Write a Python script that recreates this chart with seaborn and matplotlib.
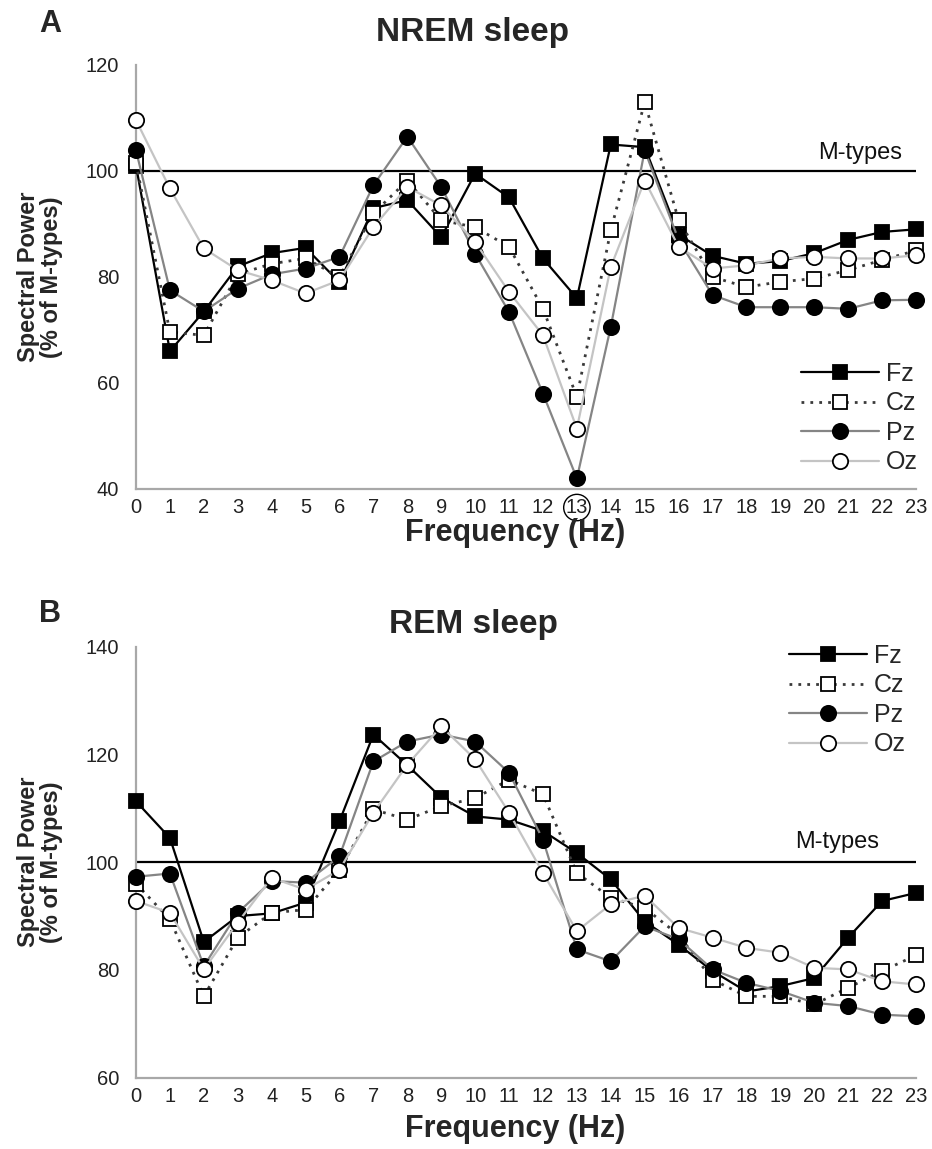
import matplotlib
matplotlib.use("Agg")
import matplotlib.pyplot as plt
import seaborn as sns

# Frequency bins (Hz)
freq = list(range(24))
channels = ["Fz", "Cz", "Pz", "Oz"]

# NREM sleep: spectral power, % of M-types
nrem_fz = [101, 66, 73.5, 82, 84.5, 85.5, 79, 93, 94.5, 87.5, 99.5, 95, 83.5, 76,
           105, 104.5, 88, 84, 82.5, 83, 84.5, 87, 88.5, 89]
nrem_cz = [101.5, 69.6, 69, 80.5, 82.5, 83.5, 80, 92, 98.2, 90.7, 89.4, 85.7, 74, 57.4,
           88.8, 113, 90.7, 80, 78.1, 79.1, 79.7, 81.3, 83.2, 85]
nrem_pz = [103.9, 77.5, 73.5, 77.8, 80.5, 81.6, 83.8, 97.3, 106.5, 97, 84.4, 73.4, 58, 42,
           70.6, 103.9, 87, 76.6, 74.3, 74.3, 74.3, 74, 75.6, 75.7]
nrem_oz = [109.6, 96.7, 85.4, 81.3, 79.4, 76.9, 79.4, 89.4, 97, 93.5, 86.6, 77.2, 69, 51.4,
           81.9, 98.2, 85.7, 81.6, 82.2, 83.5, 83.8, 83.5, 83.5, 84.1]

# REM sleep: spectral power, % of M-types
rem_fz = [111.3, 104.5, 85.2, 90, 90.5, 92.5, 107.6, 123.7, 118, 112, 108.5, 107.9, 105.8,
          101.7, 96.8, 89, 84.7, 79.8, 76, 77, 78.5, 86, 92.8, 94.3]
rem_cz = [96, 89.4, 75.1, 86, 90.6, 91.2, 98.5, 109.8, 107.9, 110.4, 111.9, 115.3, 112.6,
          98, 93.4, 91.5, 86.5, 78.2, 75.1, 75.1, 73.6, 76.7, 79.8, 82.7]
rem_pz = [97.3, 97.9, 80.7, 90.6, 96.5, 96.2, 101.1, 118.7, 122.4, 123.7, 122.4, 116.6,
          104.2, 83.8, 81.6, 88.1, 85.7, 80.1, 77.6, 76.1, 73.9, 73.3, 71.7, 71.4]
rem_oz = [92.8, 90.6, 80.1, 88.8, 97.1, 94.9, 98.6, 109.2, 118.1, 125.2, 119.1, 109.2, 98,
          87.2, 92.2, 93.8, 87.8, 86, 84.1, 83.2, 80.4, 80.1, 77.9, 77.3]

nrem_yticks = [40, 60, 80, 100, 120]
rem_yticks = [60, 80, 100, 120, 140]
reference_level = 100

sns.set_theme(style="white")
plt.rcParams["font.family"] = ["Liberation Sans", "DejaVu Sans"]

line_styles = {
    "Fz": dict(color="black", lw=1.6, ls="-", marker="s", mfc="black", mec="black", ms=10.5, zorder=3),
    "Cz": dict(color="#3a3a3a", lw=2.0, ls=(0, (1, 2.2)), marker="s", mfc="white", mec="black", ms=10.5, zorder=4),
    "Pz": dict(color="#858585", lw=1.6, ls="-", marker="o", mfc="black", mec="black", ms=11, zorder=5),
    "Oz": dict(color="#c4c4c4", lw=1.6, ls="-", marker="o", mfc="white", mec="black", ms=11, zorder=6),
}

W, H = 932, 1149
fig = plt.figure(figsize=(W / 100, H / 100), dpi=100)
axA = fig.add_axes([136 / W, 1 - 489 / H, 780 / W, 424 / H])
axB = fig.add_axes([136 / W, 1 - 1077.7 / H, 780 / W, 431 / H])


def draw_panel(ax, series, yticks, mtext_xy, legend_anchor):
    for name, vals in zip(channels, series):
        st = line_styles[name]
        sns.lineplot(x=freq, y=vals, ax=ax, color=st["color"], linewidth=st["lw"],
                     linestyle=st["ls"], marker=st["marker"], markersize=st["ms"],
                     markerfacecolor=st["mfc"], markeredgecolor=st["mec"],
                     markeredgewidth=1.3, label=name, clip_on=False, zorder=st["zorder"])
    ax.axhline(reference_level, color="black", lw=1.6, zorder=2)
    ax.text(mtext_xy[0], mtext_xy[1], "M-types", ha="right", va="bottom", fontsize=17,
            color="#111111")
    ax.set_xlim(0, 23)
    ax.set_ylim(yticks[0], yticks[-1])
    ax.set_xticks(freq)
    ax.set_xticklabels([str(f) for f in freq])
    ax.set_yticks(yticks)
    for side in ("top", "right"):
        ax.spines[side].set_visible(False)
    for side in ("left", "bottom"):
        ax.spines[side].set_color("#a8a8a8")
        ax.spines[side].set_linewidth(1.6)
    ax.tick_params(axis="both", direction="out", length=5, width=1.2, color="#a8a8a8",
                   labelsize=14.5, labelcolor="#222222")
    ax.tick_params(axis="y", pad=7)
    ax.tick_params(axis="x", pad=1.5)
    ax.set_xlabel("")
    ax.set_ylabel("")
    handles, labels = ax.get_legend_handles_labels()
    ax.legend(handles[:4], labels[:4], loc="center left", bbox_to_anchor=legend_anchor,
              bbox_transform=fig.transFigure, frameon=False, handlelength=3.1,
              handletextpad=0.3, labelspacing=0.22, fontsize=18, borderpad=0,
              borderaxespad=0, numpoints=1)


draw_panel(axA, [nrem_fz, nrem_cz, nrem_pz, nrem_oz], nrem_yticks, (22.6, 101.4),
           (801 / W, 1 - 418 / H))
draw_panel(axB, [rem_fz, rem_cz, rem_pz, rem_oz], rem_yticks, (21.9, 101.8),
           (789 / W, 1 - 700 / H))

# circle the 13 Hz tick label in the NREM panel
for lab in axA.get_xticklabels():
    if lab.get_text() == "13":
        lab.set_bbox(dict(boxstyle="circle,pad=0.1", fc="none", ec="black", lw=1.0))

# panel letters, titles, axis labels
fig.text(50 / W, 1 - 24 / H, "A", fontsize=22, weight="bold", ha="center", va="center")
fig.text(50 / W, 1 - 614 / H, "B", fontsize=22, weight="bold", ha="center", va="center")
fig.text(473 / W, 1 - 33 / H, "NREM sleep", fontsize=24, weight="bold", ha="center", va="center")
fig.text(473 / W, 1 - 624 / H, "REM sleep", fontsize=24, weight="bold", ha="center", va="center")
for yc in (277, 862):
    fig.text(40 / W, 1 - yc / H, "Spectral Power\n(% of M-types)", rotation=90, fontsize=17,
             weight="bold", ha="center", va="center", multialignment="center", linespacing=1.0)
for yc in (533, 1129):
    fig.text(515 / W, 1 - yc / H, "Frequency (Hz)", fontsize=22, weight="bold",
             ha="center", va="center")

fig.savefig("out.png", dpi=100, facecolor="white")
